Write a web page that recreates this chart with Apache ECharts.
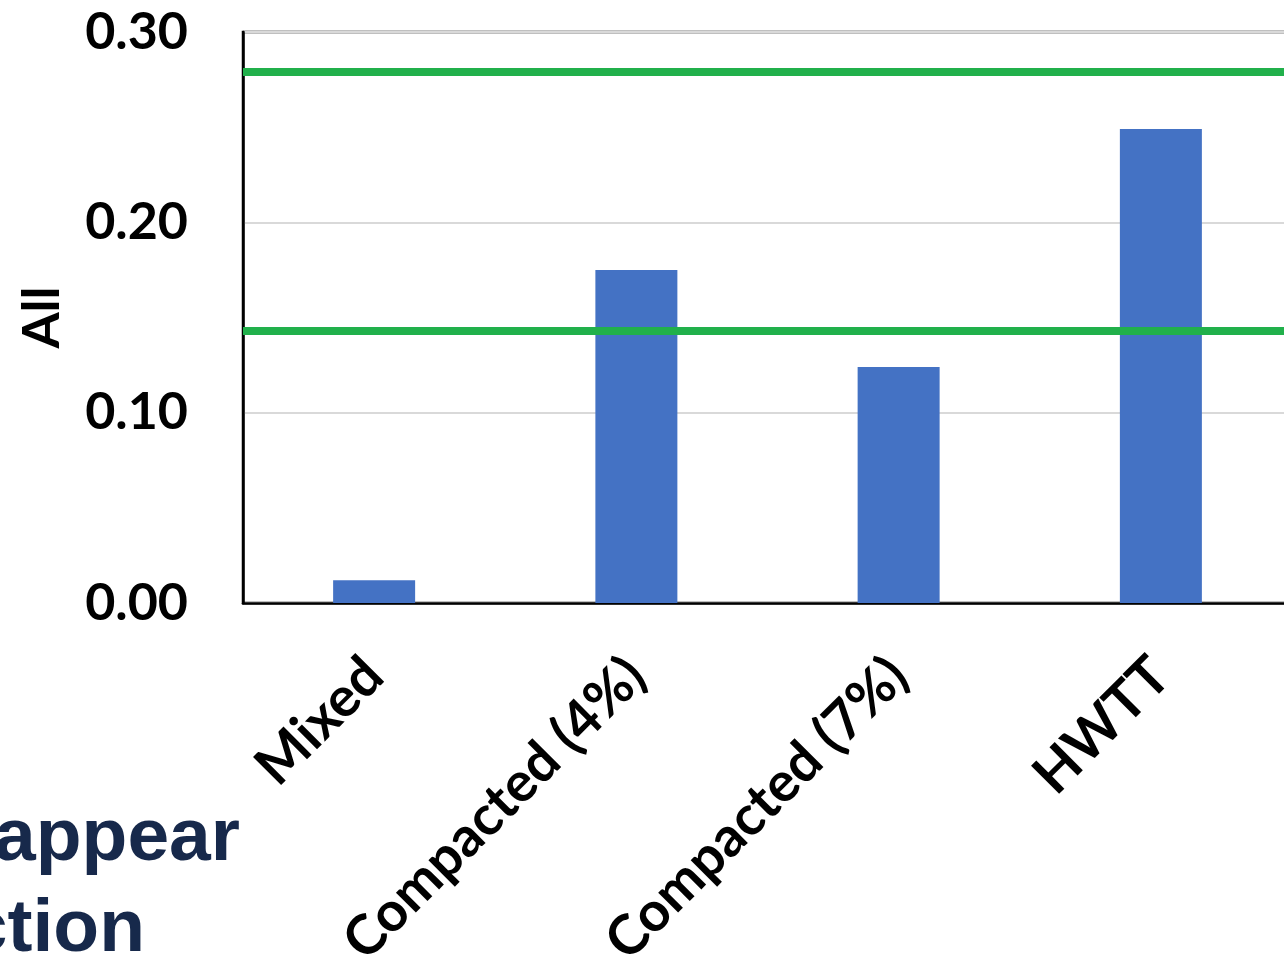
<!DOCTYPE html>
<html>
<head>
<meta charset="utf-8">
<style>
  html, body { margin: 0; padding: 0; background: #ffffff; }
  #chart { width: 1284px; height: 961px; }
</style>
<script src="https://cdn.jsdelivr.net/npm/echarts@6/dist/echarts.min.js"></script>
</head>
<body>
<div id="chart"></div>
<script>
// Anchorage categories and their index values
const categories = ['Mixed', 'Compacted (4%)', 'Compacted (7%)', 'HWTT'];
const allValues = [0.012, 0.175, 0.124, 0.249];
// Reference thresholds drawn as horizontal lines
const thresholds = [0.279, 0.143];
// Value axis range
const yMin = 0, yMax = 0.30, yStep = 0.10;

const FONT = 'Lato, "Open Sans", sans-serif';

const chart = echarts.init(document.getElementById('chart'), null, { renderer: 'canvas' });

chart.setOption({
  animation: false,
  backgroundColor: '#ffffff',
  grid: {
    left: 243,
    top: 32,
    width: 1049,
    bottom: 358,
    containLabel: false,
    outerBoundsMode: 'none',
    show: true,
    borderColor: '#000000',
    borderWidth: 2.5,
    backgroundColor: 'transparent'
  },
  xAxis: {
    type: 'category',
    data: categories,
    axisLine: { show: true, lineStyle: { color: '#000000', width: 2.5 } },
    axisTick: { show: false },
    axisLabel: {
      interval: 0,
      rotate: 45,
      margin: 64,
      color: '#000000',
      fontFamily: FONT,
      fontWeight: 'bold',
      fontSize: 55
    },
    splitLine: { show: false }
  },
  yAxis: {
    type: 'value',
    min: yMin,
    max: yMax,
    interval: yStep,
    name: 'All',
    nameLocation: 'middle',
    nameRotate: 90,
    nameGap: 175,
    nameTextStyle: {
      color: '#000000',
      fontFamily: FONT,
      fontWeight: 'bold',
      fontSize: 52
    },
    axisLine: { show: true, lineStyle: { color: '#000000', width: 2.5 } },
    axisTick: { show: false },
    axisLabel: {
      margin: 55,
      color: '#000000',
      fontFamily: FONT,
      fontWeight: 'bold',
      fontSize: 52,
      formatter: v => v.toFixed(2)
    },
    splitLine: { show: true, lineStyle: { color: '#d9d9d9', width: 2 } }
  },
  series: [{
    type: 'bar',
    data: allValues,
    barWidth: 82,
    itemStyle: { color: '#4472c4' },
    markLine: {
      silent: true,
      symbol: 'none',
      precision: 4,
      label: { show: false },
      lineStyle: { color: '#21b04b', width: 8, type: 'solid', opacity: 1 },
      emphasis: { disabled: true },
      data: thresholds.map(v => ({ yAxis: v }))
    }
  }],
  graphic: [
    {
      type: 'text',
      style: {
        x: 240, y: 839,
        text: 'appear',
        align: 'right',
        verticalAlign: 'middle',
        fill: '#17294b',
        font: 'bold 75px "Liberation Sans", Arial, sans-serif'
      }
    },
    {
      type: 'text',
      style: {
        x: 145, y: 930,
        text: 'ction',
        align: 'right',
        verticalAlign: 'middle',
        fill: '#17294b',
        font: 'bold 75px "Liberation Sans", Arial, sans-serif'
      }
    }
  ]
});
</script>
</body>
</html>
